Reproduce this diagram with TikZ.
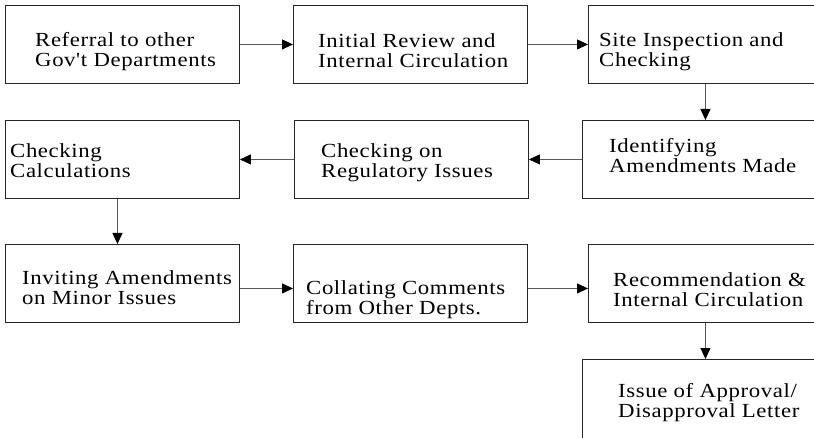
\documentclass[tikz,border=0pt]{standalone}
\usepackage{fontspec}
\usepackage{tikz}
\usetikzlibrary{arrows.meta,positioning}
\newfontfamily\stagefont[FakeStretch=1.14,LetterSpace=3]{Liberation Serif}

\tikzset{
  stagebox/.style={draw=black!85, line width=0.9pt, minimum width=234pt,
    minimum height=78pt, inner sep=0pt, anchor=north west},
  stagetext/.style={anchor=north west, inner sep=0pt, align=left,
    font=\stagefont\fontsize{20}{20.5}\selectfont},
  flow/.style={-{Triangle[length=11pt,width=10pt,color=black]},
    draw=black!65, line width=0.9pt}
}

\begin{document}
\begin{tikzpicture}[x=1pt,y=-1pt]
				\useasboundingbox (0,0) rectangle (814,438);
				% boxes, row by row
				\node[stagebox] (r1c1) at (5,5) {};
				\node[stagebox] (r1c2) at (293,5) {};
				\node[stagebox] (r1c3) at (588,5) {};
				\node[stagebox] (r2c1) at (5,120) {};
				\node[stagebox] (r2c2) at (294,120) {};
				\node[stagebox] (r2c3) at (582,120) {};
				\node[stagebox] (r3c1) at (5,244) {};
				\node[stagebox] (r3c2) at (293,244) {};
				\node[stagebox] (r3c3) at (588,244) {};
				\node[stagebox, minimum height=90pt] (r4c3) at (582,359) {};
				% texts
				\node[stagetext] (t11) at ([shift={(30,27)}]r1c1.north west) {Referral to other\\Gov't Departments};
				\node[stagetext] (t12) at ([shift={(25,28)}]r1c2.north west) {Initial Review and\\Internal Circulation};
				\node[stagetext] (t13) at ([shift={(11,27)}]r1c3.north west) {Site Inspection and\\Checking};
				\node[stagetext] (t21) at ([shift={(5,23)}]r2c1.north west) {Checking\\Calculations};
				\node[stagetext] (t22) at ([shift={(27,23)}]r2c2.north west) {Checking on\\Regulatory Issues};
				\node[stagetext] (t23) at ([shift={(27,18)}]r2c3.north west) {Identifying\\Amendments Made};
				\node[stagetext] (t31) at ([shift={(17,26)}]r3c1.north west) {Inviting Amendments\\on Minor Issues};
				\node[stagetext] (t32) at ([shift={(13,36)}]r3c2.north west) {Collating Comments\\from Other Depts.};
				\node[stagetext] (t33) at ([shift={(25,28)}]r3c3.north west) {Recommendation \&\\Internal Circulation};
				\node[stagetext] (t43) at ([shift={(36,24)}]r4c3.north west) {Issue of Approval/\\Disapproval Letter};
				% connectors
				\draw[flow] (r1c1.east) -- (r1c2.west);
				\draw[flow] (r1c2.east) -- (r1c3.west);
				\draw[flow] (r1c3.south) -- (r1c3.south |- r2c3.north);
				\draw[flow] (r2c3.west) -- (r2c2.east);
				\draw[flow] (r2c2.west) -- (r2c1.east);
				\draw[flow] ([xshift=-5pt]r2c1.south) -- ([xshift=-5pt]r2c1.south |- r3c1.north);
				\draw[flow] ([yshift=-5pt]r3c1.east) -- ([yshift=-5pt]r3c2.west);
				\draw[flow] ([yshift=-5pt]r3c2.east) -- ([yshift=-5pt]r3c3.west);
				\draw[flow] (r3c3.south) -- (r3c3.south |- r4c3.north);
			\end{tikzpicture}
\end{document}
